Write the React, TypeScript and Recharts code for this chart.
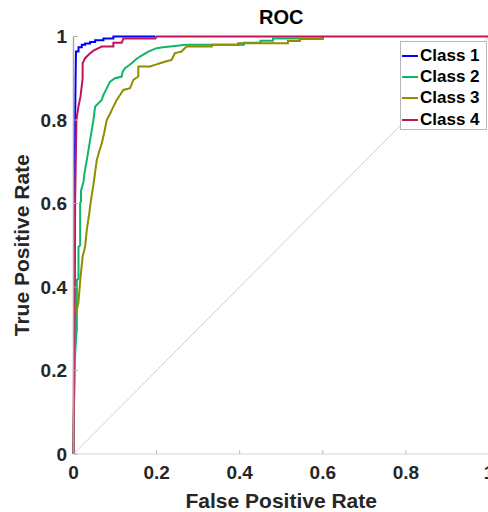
import React from 'react';
import { LineChart, Line, XAxis, YAxis, Legend } from 'recharts';

const xTicks = [0, 0.2, 0.4, 0.6, 0.8, 1];
const yTicks = [0, 0.2, 0.4, 0.6, 0.8, 1];
const classNames = ['Class 1', 'Class 2', 'Class 3', 'Class 4'];
const classColors = ['#0000ff', '#12b36a', '#8e8e00', '#c2135c'];

const class1Fpr = [0, 0.002, 0.003, 0.004, 0.005, 0.006, 0.012, 0.012, 0.02, 0.02, 0.028, 0.028, 0.04, 0.04, 0.052, 0.052, 0.072, 0.072, 0.096, 0.096, 0.197];
const class1Tpr = [0, 0.2, 0.6, 0.8, 0.9, 0.964, 0.964, 0.974, 0.974, 0.98, 0.98, 0.983, 0.983, 0.987, 0.987, 0.991, 0.991, 0.995, 0.995, 1, 1];

const class2Fpr = [0, 0.002, 0.005, 0.006, 0.008, 0.008, 0.012, 0.012, 0.016, 0.016, 0.018, 0.018, 0.024, 0.026, 0.032, 0.038, 0.044, 0.048, 0.052, 0.06, 0.068, 0.072, 0.076, 0.082, 0.088, 0.1, 0.116, 0.118, 0.124, 0.132, 0.14, 0.15, 0.16, 0.17, 0.18, 0.19, 0.2, 0.215, 0.232, 0.25, 0.268, 0.41, 0.41, 0.45, 0.45, 0.48, 0.48, 0.6, 0.6];
const class2Tpr = [0, 0.2, 0.257, 0.273, 0.3, 0.417, 0.42, 0.496, 0.5, 0.6, 0.605, 0.63, 0.652, 0.67, 0.704, 0.74, 0.776, 0.8, 0.832, 0.84, 0.848, 0.86, 0.868, 0.88, 0.892, 0.9, 0.904, 0.915, 0.924, 0.93, 0.936, 0.945, 0.952, 0.958, 0.964, 0.968, 0.972, 0.974, 0.976, 0.978, 0.98, 0.98, 0.985, 0.985, 0.99, 0.99, 0.995, 0.995, 1];

const class3Fpr = [0, 0.003, 0.0036, 0.0077, 0.0116, 0.017, 0.022, 0.028, 0.032, 0.038, 0.042, 0.048, 0.056, 0.062, 0.068, 0.074, 0.08, 0.088, 0.096, 0.104, 0.112, 0.12, 0.136, 0.144, 0.156, 0.156, 0.184, 0.196, 0.208, 0.222, 0.236, 0.244, 0.252, 0.26, 0.266, 0.272, 0.333, 0.333, 0.396, 0.396, 0.516, 0.516, 0.545, 0.545, 0.6, 0.6];
const class3Tpr = [0, 0.3, 0.333, 0.345, 0.361, 0.425, 0.473, 0.497, 0.537, 0.577, 0.608, 0.645, 0.704, 0.725, 0.744, 0.77, 0.8, 0.815, 0.832, 0.848, 0.86, 0.872, 0.876, 0.896, 0.904, 0.928, 0.928, 0.932, 0.936, 0.94, 0.944, 0.96, 0.962, 0.964, 0.97, 0.976, 0.976, 0.98, 0.98, 0.984, 0.984, 0.989, 0.989, 0.994, 0.994, 1];

const class4Fpr = [0, 0.001, 0.003, 0.004, 0.007, 0.012, 0.017, 0.022, 0.022, 0.028, 0.038, 0.048, 0.068, 0.096, 0.096, 0.116, 0.12, 0.197, 0.2, 1];
const class4Tpr = [0, 0.2, 0.45, 0.61, 0.8, 0.833, 0.857, 0.9, 0.936, 0.948, 0.958, 0.966, 0.976, 0.976, 0.985, 0.985, 0.995, 0.995, 1, 1];

const chanceFpr = [0, 1];
const chanceTpr = [0, 1];

const toPoints = (f: number[], t: number[]) => f.map((x, i) => ({ x, y: t[i] }));

const series = [
  toPoints(class1Fpr, class1Tpr),
  toPoints(class2Fpr, class2Tpr),
  toPoints(class3Fpr, class3Tpr),
  toPoints(class4Fpr, class4Tpr),
];

const FONT = '"Liberation Sans", Arial, Helvetica, sans-serif';

const renderLegend = () => (
  <div
    style={{
      border: '1px solid #b8b8b8',
      background: '#fff',
      width: 87,
      height: 89,
      boxSizing: 'border-box',
      paddingTop: 3,
    }}
  >
    {classNames.map((n, i) => (
      <div key={n} style={{ display: 'flex', alignItems: 'center', height: 21.3 }}>
        <span
          style={{
            display: 'inline-block',
            width: 16,
            height: 0,
            borderTop: `2px solid ${classColors[i]}`,
            marginLeft: 1,
            marginRight: 2,
          }}
        />
        <span style={{ fontFamily: FONT, fontWeight: 'bold', fontSize: 17, color: '#000', whiteSpace: 'nowrap' }}>{n}</span>
      </div>
    ))}
  </div>
);

const tickStyle = { fontFamily: FONT, fontWeight: 'bold' as const, fontSize: 19, fill: '#262626' };

export default function App() {
  return (
    <div style={{ position: 'absolute', left: 0, top: 0, width: 488, height: 512, overflow: 'hidden', background: '#fff' }}>
      <div
        style={{
          position: 'absolute',
          left: 73.5,
          width: 415.5,
          top: 7,
          textAlign: 'center',
          fontFamily: FONT,
          fontWeight: 'bold',
          fontSize: 20,
          lineHeight: '20px',
          color: '#000',
          zIndex: 2,
        }}
      >
        ROC
      </div>
      <LineChart width={495} height={512} margin={{ top: 36.5, right: 6, bottom: 0, left: 0 }}>
        <XAxis
          type="number"
          dataKey="x"
          domain={[0, 1]}
          ticks={xTicks}
          interval={0}
          height={58}
          axisLine={{ stroke: '#d6d6d6', strokeWidth: 1 }}
          tickLine={{ stroke: '#bdbdbd' }}
          tickSize={-4}
          tickMargin={16}
          tick={tickStyle}
          label={{
            value: 'False Positive Rate',
            position: 'insideBottom',
            offset: 4,
            style: { fontFamily: FONT, fontWeight: 'bold', fontSize: 21, fill: '#262626' },
          }}
        />
        <YAxis
          type="number"
          dataKey="y"
          domain={[0, 1]}
          ticks={yTicks}
          interval={0}
          width={73.5}
          axisLine={{ stroke: '#a8a8a8', strokeWidth: 1.5 }}
          tickLine={{ stroke: '#a8a8a8' }}
          tickSize={-4}
          tickMargin={10.5}
          tick={tickStyle}
          label={{
            value: 'True Positive Rate',
            angle: -90,
            position: 'insideLeft',
            offset: 21.5,
            style: { fontFamily: FONT, fontWeight: 'bold', fontSize: 21, fill: '#262626', textAnchor: 'middle' },
          }}
        />
        <Line
          data={toPoints(chanceFpr, chanceTpr)}
          dataKey="y"
          type="linear"
          stroke="#cfcfcf"
          strokeWidth={1}
          dot={false}
          activeDot={false}
          isAnimationActive={false}
          legendType="none"
        />
        {series.map((d, i) => (
          <Line
            key={classNames[i]}
            name={classNames[i]}
            data={d}
            dataKey="y"
            type="linear"
            stroke={classColors[i]}
            strokeWidth={2}
            dot={false}
            activeDot={false}
            isAnimationActive={false}
          />
        ))}
        <Legend
          layout="vertical"
          align="center"
          verticalAlign="middle"
          content={renderLegend}
          wrapperStyle={{ left: 400, top: 41, width: 87, height: 89 }}
        />
      </LineChart>
    </div>
  );
}
